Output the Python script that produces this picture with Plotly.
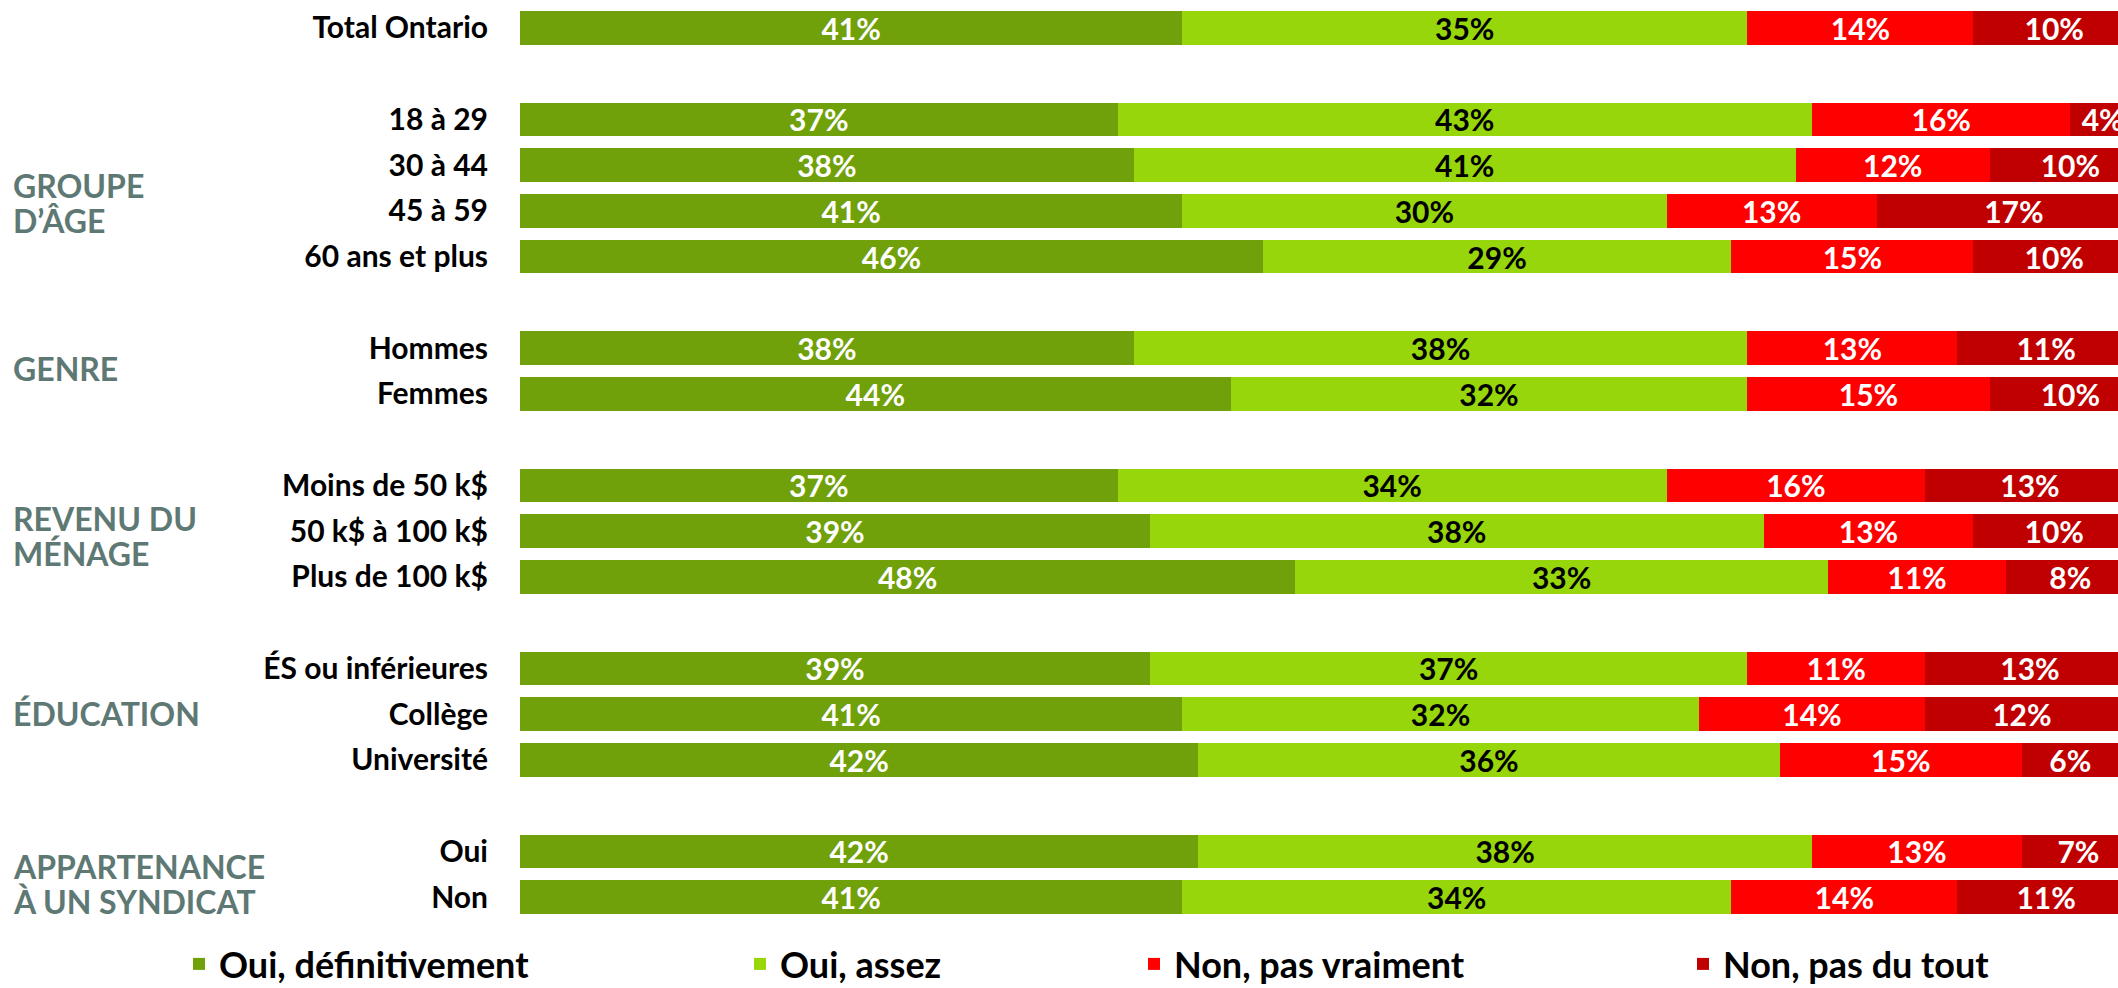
import plotly.graph_objects as go

# ---- data ----
series_names = ["Oui, définitivement", "Oui, assez", "Non, pas vraiment", "Non, pas du tout"]
series_colors = ["#70A00A", "#97D60A", "#FF0000", "#C00000"]
text_colors = ["white", "black", "white", "white"]

group_titles = [[], ["GROUPE", "D’ÂGE"], ["GENRE"], ["REVENU DU", "MÉNAGE"], ["ÉDUCATION"], ["APPARTENANCE", "À UN SYNDICAT"]]
group_rows = [
    ["Total Ontario"],
    ["18 à 29", "30 à 44", "45 à 59", "60 ans et plus"],
    ["Hommes", "Femmes"],
    ["Moins de 50 k$", "50 k$ à 100 k$", "Plus de 100 k$"],
    ["ÉS ou inférieures", "Collège", "Université"],
    ["Oui", "Non"],
]

oui_def = [41, 37, 38, 41, 46, 38, 44, 37, 39, 48, 39, 41, 42, 42, 41]
oui_assez = [35, 43, 41, 30, 29, 38, 32, 34, 38, 33, 37, 32, 36, 38, 34]
non_vraiment = [14, 16, 12, 13, 15, 13, 15, 16, 13, 11, 11, 14, 15, 13, 14]
non_tout = [10, 4, 10, 17, 10, 11, 10, 13, 10, 8, 13, 12, 6, 7, 11]
series_values = [oui_def, oui_assez, non_vraiment, non_tout]

# ---- layout of rows: one blank slot between groups ----
row_labels, row_pos, group_centers = [], [], []
pos = 0
for rows in group_rows:
    start = pos
    for r in rows:
        row_labels.append(r)
        row_pos.append(pos)
        pos += 1
    group_centers.append((start + pos - 1) / 2)
    pos += 1
last_slot = row_pos[-1]

# vertical placement tweaks of the group titles (in row units)
title_shift = [0, 0.32, -0.05, 0.10, -0.02, 0.22]
title_line_gap = 0.76

FONT = "Lato"
W, H = 2118, 988
fig = go.Figure()
legend_left_px = [179, 740, 1134, 1683]
for i, (name, vals) in enumerate(zip(series_names, series_values)):
    lg = "legend" if i == 0 else f"legend{i+1}"
    fig.add_trace(go.Bar(
        y=row_pos, x=vals, orientation="h", name=name,
        marker=dict(color=series_colors[i], line=dict(width=0)),
        width=0.735,
        text=[f"{v}%" for v in vals], textposition="inside",
        insidetextanchor="middle", constraintext="none",
        textfont=dict(family=FONT, size=30, color=text_colors[i], weight="bold"),
        hoverinfo="skip", legend=lg, showlegend=True,
    ))

layout_legends = {}
for i in range(4):
    key = "legend" if i == 0 else f"legend{i+1}"
    layout_legends[key] = dict(
        xref="container", yref="container",
        x=legend_left_px[i] / W, xanchor="left",
        y=1 - 964 / H, yanchor="middle",
        orientation="h", bgcolor="rgba(0,0,0,0)",
        font=dict(family=FONT, size=36, color="black", weight="bold"),
    )

annotations = []
for lines, c, sh in zip(group_titles, group_centers, title_shift):
    n = len(lines)
    for k, line in enumerate(lines):
        y = c + sh + (k - (n - 1) / 2) * title_line_gap
        annotations.append(dict(
            x=-0.3185, xref="paper", xanchor="left", y=y, yref="y", yanchor="middle",
            text=line, showarrow=False, align="left",
            font=dict(family=FONT, size=32, color="#5E7874", weight="bold"),
        ))

fig.update_layout(
    width=W, height=H, barmode="stack",
    margin=dict(l=520, r=0, t=5, b=68, autoexpand=False),
    plot_bgcolor="white", paper_bgcolor="white",
    annotations=annotations,
    **layout_legends,
)
fig.update_xaxes(range=[0, 98.95], visible=False, showgrid=False, zeroline=False)
fig.update_yaxes(
    range=[last_slot + 0.5, -0.5], tickvals=row_pos, ticktext=row_labels,
    showgrid=False, zeroline=False, showline=False, ticks="", automargin=False,
    tickfont=dict(family=FONT, size=30, color="black", weight="bold"),
    ticklabelstandoff=31,
)
fig.write_html(
    "out.html",
    config={"displayModeBar": False},
    post_script="document.body.style.margin='0';document.body.style.overflow='hidden';",
)
